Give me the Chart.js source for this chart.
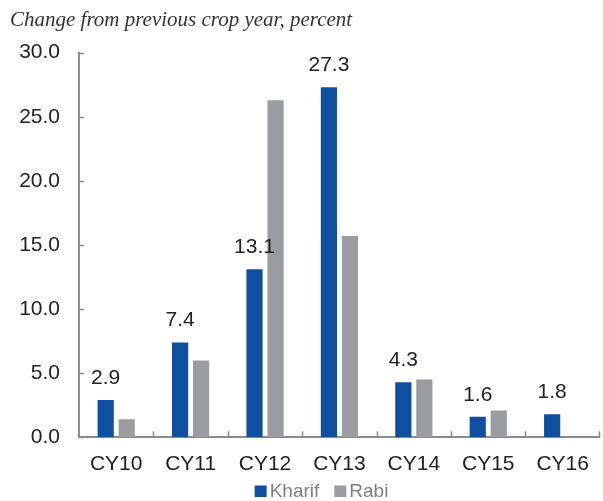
<!DOCTYPE html>
<html>
<head>
<meta charset="utf-8">
<title>Crop year change</title>
<script src="https://cdn.jsdelivr.net/npm/chart.js@4/dist/chart.umd.min.js"></script>
<style>
  html, body { margin: 0; padding: 0; background: #ffffff; }
  canvas { display: block; }
</style>
</head>
<body>
<canvas id="c" width="603" height="501"></canvas>
<script>
// Crop years on the x axis
const cropYears = ['CY10', 'CY11', 'CY12', 'CY13', 'CY14', 'CY15', 'CY16'];
// Percent change from the previous crop year
const kharifChange = [2.9, 7.4, 13.1, 27.3, 4.3, 1.6, 1.8];
const rabiChange = [1.4, 6.0, 26.3, 15.7, 4.5, 2.1, null];
// Value axis range
const yMin = 0;
const yMax = 30;
const yStep = 5;

const AXIS_GREY = '#8c8c8c';
const SANS = "'Liberation Sans', Arial, Helvetica, sans-serif";

// Short tick marks pointing into the plot area
const innerTicks = {
  id: 'innerTicks',
  afterDraw(chart) {
    const { ctx, chartArea, scales } = chart;
    const x = scales.x, y = scales.y;
    ctx.save();
    ctx.strokeStyle = AXIS_GREY;
    ctx.lineWidth = 1.5;
    ctx.beginPath();
    y.ticks.forEach(t => {
      const py = Math.round(y.getPixelForValue(t.value)) + 0.5;
      ctx.moveTo(chartArea.left, py);
      ctx.lineTo(chartArea.left + 5, py);
    });
    const n = x.ticks.length;
    for (let i = 1; i <= n; i++) {
      let px;
      if (i < n) px = (x.getPixelForValue(i - 1) + x.getPixelForValue(i)) / 2;
      else px = chartArea.right - 1;
      px = Math.round(px) + 0.5;
      ctx.moveTo(px, chartArea.bottom);
      ctx.lineTo(px, chartArea.bottom - 6);
    }
    ctx.stroke();
    ctx.restore();
  }
};

// Value labels above the Kharif bars
const kharifLabels = {
  id: 'kharifLabels',
  afterDatasetsDraw(chart) {
    const { ctx } = chart;
    const meta = chart.getDatasetMeta(0);
    const values = chart.data.datasets[0].data;
    ctx.save();
    ctx.font = '21px ' + SANS;
    ctx.fillStyle = '#222222';
    ctx.textAlign = 'center';
    ctx.textBaseline = 'alphabetic';
    meta.data.forEach((bar, i) => {
      const v = values[i];
      if (v === null || v === undefined) return;
      ctx.fillText(v.toFixed(1), bar.x, bar.y - 16);
    });
    ctx.restore();
  }
};

// Legend row under the category labels
const bottomLegend = {
  id: 'bottomLegend',
  afterDraw(chart) {
    const { ctx } = chart;
    const box = 12, boxGap = 3, itemGap = 15;
    ctx.save();
    ctx.font = '19px ' + SANS;
    const items = chart.data.datasets.map(ds => ({
      label: ds.label,
      color: ds.backgroundColor,
      w: ctx.measureText(ds.label).width
    }));
    const total = items.reduce((s, it) => s + box + boxGap + it.w, 0) + itemGap * (items.length - 1);
    let x = 321.5 - total / 2;
    const baseline = 497;
    ctx.textBaseline = 'alphabetic';
    ctx.textAlign = 'left';
    items.forEach(it => {
      ctx.fillStyle = it.color;
      ctx.fillRect(x, baseline - 11.5, box, box - 0.5);
      x += box + boxGap;
      ctx.fillStyle = '#7f7f7f';
      ctx.fillText(it.label, x, baseline);
      x += it.w + itemGap;
    });
    ctx.restore();
  }
};

new Chart(document.getElementById('c'), {
  type: 'bar',
  data: {
    labels: cropYears,
    datasets: [
      {
        label: 'Kharif',
        data: kharifChange,
        backgroundColor: '#0f4fa0',
        categoryPercentage: 0.565,
        barPercentage: 0.77
      },
      {
        label: 'Rabi',
        data: rabiChange,
        backgroundColor: '#9b9ca0',
        categoryPercentage: 0.565,
        barPercentage: 0.77
      }
    ]
  },
  options: {
    responsive: false,
    devicePixelRatio: 1,
    animation: false,
    layout: { padding: { left: 10, right: 1, top: 0, bottom: 0 } },
    plugins: {
      legend: { display: false },
      tooltip: { enabled: false },
      title: {
        display: true,
        text: 'Change from previous crop year, percent',
        align: 'start',
        color: '#333333',
        font: { family: "'Liberation Serif', 'Times New Roman', serif", style: 'italic', weight: 'normal', size: 21, lineHeight: 1.2 },
        padding: { top: 8, bottom: 19.5 }
      }
    },
    scales: {
      x: {
        grid: { display: false, drawTicks: false },
        border: { display: true, color: AXIS_GREY, width: 2 },
        ticks: { color: '#222222', font: { family: SANS, size: 21 }, padding: 14, maxRotation: 0 },
        afterFit(scale) { scale.height = 63.7; }
      },
      y: {
        min: yMin,
        max: yMax,
        grid: { display: false, drawTicks: false },
        border: { display: true, color: AXIS_GREY, width: 2 },
        ticks: {
          stepSize: yStep,
          color: '#222222',
          font: { family: SANS, size: 21 },
          padding: 19,
          callback: v => Number(v).toFixed(1)
        },
        afterFit(scale) { scale.width = 69; }
      }
    }
  },
  plugins: [innerTicks, kharifLabels, bottomLegend]
});
</script>
</body>
</html>
